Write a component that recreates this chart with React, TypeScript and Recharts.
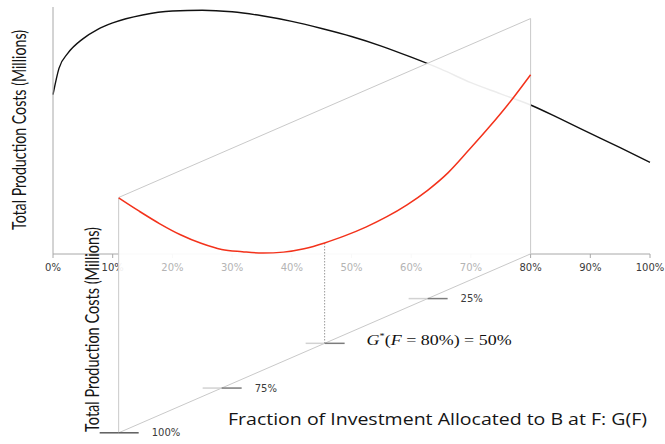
import React from 'react';
import {
  LineChart,
  ComposedChart,
  Line,
  Area,
  Scatter,
  XAxis,
  YAxis,
} from 'recharts';

// Main curve: total production cost against the share F allocated at the first stage
const fShares = [0, 1, 2.5, 5, 7.5, 10, 15, 20, 25, 30, 35, 40, 45, 50, 55, 60, 65, 70, 75, 80, 85, 90, 95, 100];
const costByF = [2.0, 2.33, 2.52, 2.7, 2.82, 2.9, 3.0, 3.05, 3.06, 3.04, 2.99, 2.92, 2.83, 2.73, 2.61, 2.47, 2.32, 2.15, 2.01, 1.87, 1.695, 1.515, 1.335, 1.15];
const fTicks = [0, 10, 20, 30, 40, 50, 60, 70, 80, 90, 100];
const costTicks = [0, 1, 2, 3];

// Inner panel: cost against the share G allocated to B, with F held at 80%
const fFixed = 80;
const gShares = [0, 5, 10, 15, 20, 25, 30, 35, 40, 45, 50, 55, 60, 65, 70, 75, 80, 85, 90, 95, 100];
const costByG = [2.25, 2.02, 1.82, 1.64, 1.47, 1.36, 1.29, 1.25, 1.235, 1.24, 1.26, 1.3, 1.37, 1.47, 1.6, 1.74, 1.93, 2.15, 2.4, 2.67, 2.95];
const gTicks = [25, 50, 75, 100];
const gOptimum = 50;

const yTitle = 'Total Production Costs (Millions)';
const xTitle = 'Fraction of Investment Allocated to B at F: G(F)';

// Oblique projection of the inner panel onto the main plane
const PANEL_F_AT_G100 = 11;
const PANEL_DROP_AT_G100 = -2.247;
const PANEL_HEIGHT = 2.955;
const project = (g: number, c: number) => ({
  f: fFixed + ((PANEL_F_AT_G100 - fFixed) * g) / 100,
  v: (PANEL_DROP_AT_G100 * g) / 100 + c,
});

const mainData = fShares.map((f, i) => ({ f, v: costByF[i] }));
const panelCurve = gShares.map((g, i) => project(g, costByG[i]));
const panelBand = [100, 0].map((g) => {
  const p = project(g, 0);
  return { f: p.f, band: [p.v, p.v + PANEL_HEIGHT] };
});
const edge = (g1: number, c1: number, g2: number, c2: number) => [project(g1, c1), project(g2, c2)];
const topEdge = edge(100, PANEL_HEIGHT, 0, PANEL_HEIGHT);
const bottomEdge = edge(100, 0, 0, 0);
const leftEdge = edge(100, 0, 100, PANEL_HEIGHT);
const rightEdge = edge(0, 0, 0, PANEL_HEIGHT);
const optimumCost = costByG[gShares.indexOf(gOptimum)];
const optimumDrop = edge(gOptimum, optimumCost, gOptimum, 0);
const gTickPoints = gTicks.map((g) => ({ ...project(g, 0), g }));
const coveredTicks = fTicks.filter((t) => t > 10 && t < fFixed).map((t) => ({ f: t, v: 0, t }));

const TICK_FONT = 'DejaVu Sans';
const TITLE_FONT = 'Lato';

const MainTick = (props: any) => {
  const { x, y, payload } = props;
  const v = payload.value;
  if (v > 10 && v < fFixed) return <g />;
  return (
    <text x={x} y={y + 11} textAnchor="middle" fill="#3a3a3a" fontSize={10} fontFamily={TICK_FONT}>
      {v}%
    </text>
  );
};

const CoveredTick = (props: any) => {
  const { cx, cy, payload } = props;
  return (
    <text x={cx} y={cy + 17} textAnchor="middle" fill="#b4b4b4" fontSize={10} fontFamily={TICK_FONT}>
      {payload.t}%
    </text>
  );
};

const GTick = (props: any) => {
  const { cx, cy, payload } = props;
  const last = payload.g === 100;
  return (
    <g>
      <line x1={cx - 19} x2={cx} y1={cy} y2={cy} stroke={last ? '#5c5c5c' : '#d2d2d2'} strokeWidth={1.5} />
      <line x1={cx} x2={cx + 20} y1={cy} y2={cy} stroke={last ? '#5c5c5c' : '#7c7c7c'} strokeWidth={1.5} />
      {payload.g === gOptimum ? (
        <text
          x={cx + 42}
          y={cy + 2}
          fontFamily="Liberation Serif"
          fontSize={14}
          fill="#111"
          textLength={145}
          lengthAdjust="spacingAndGlyphs"
        >
          <tspan fontStyle="italic">G</tspan>
          <tspan fontSize={8} dy={-6}>*</tspan>
          <tspan dy={6}>(</tspan>
          <tspan fontStyle="italic">F</tspan>
          <tspan> = {fFixed}%) = {payload.g}%</tspan>
        </text>
      ) : (
        <text x={cx + 33} y={cy + 3.5} fill="#3a3a3a" fontSize={10} fontFamily={TICK_FONT}>
          {payload.g}%
        </text>
      )}
    </g>
  );
};

const VerticalTitle = ({ x, y, length }: { x: number; y: number; length: number }) => (
  <g transform={`translate(${x}, ${y}) rotate(-90)`}>
    <text
      x={0}
      y={0}
      textAnchor="middle"
      fontFamily={TITLE_FONT}
      fontSize={19}
      fill="#151515"
      textLength={length}
      lengthAdjust="spacingAndGlyphs"
    >
      {yTitle}
    </text>
  </g>
);

export default function App() {
  return (
    <div style={{ position: 'absolute', left: 0, top: 0, width: 665, height: 444, background: '#fff', overflow: 'hidden' }}>
      <div style={{ position: 'absolute', left: 0, top: 0 }}>
        <LineChart width={665} height={290} data={mainData} margin={{ top: 7, right: 15, bottom: 6, left: 3 }}>
          <XAxis
            dataKey="f"
            type="number"
            domain={[0, 100]}
            ticks={fTicks}
            interval={0}
            height={30}
            tickSize={4}
            axisLine={{ stroke: '#a8a8a8' }}
            tickLine={{ stroke: '#a8a8a8' }}
            tick={<MainTick />}
          />
          <YAxis
            type="number"
            domain={[0, 3.1]}
            ticks={costTicks}
            width={50}
            tickSize={4}
            tick={false}
            axisLine={{ stroke: '#a8a8a8' }}
            tickLine={{ stroke: '#a8a8a8' }}
          />
          <Line type="monotone" dataKey="v" stroke="#111" strokeWidth={1.4} dot={false} isAnimationActive={false} />
        </LineChart>
      </div>

      <div style={{ position: 'absolute', left: 0, top: 0 }}>
        <ComposedChart width={665} height={444} margin={{ top: 7, right: 15, bottom: 3, left: 53 }}>
          <XAxis dataKey="f" type="number" domain={[0, 100]} hide />
          <YAxis dataKey="v" type="number" domain={[-2.35, 3.1]} hide width={0} />
          <Area
            data={panelBand}
            dataKey="band"
            type="linear"
            fill="#ffffff"
            fillOpacity={0.92}
            stroke="none"
            isAnimationActive={false}
          />
          {[topEdge, bottomEdge, leftEdge, rightEdge].map((d, i) => (
            <Line
              key={i}
              data={d}
              dataKey="v"
              type="linear"
              stroke="#c9c9c9"
              strokeWidth={1}
              dot={false}
              isAnimationActive={false}
            />
          ))}
          <Line
            data={optimumDrop}
            dataKey="v"
            type="linear"
            stroke="#9a9a9a"
            strokeWidth={1}
            strokeDasharray="1.5 1.5"
            dot={false}
            isAnimationActive={false}
          />
          <Line
            data={panelCurve}
            dataKey="v"
            type="monotone"
            stroke="#f3321b"
            strokeWidth={1.5}
            dot={false}
            isAnimationActive={false}
          />
          <Scatter data={coveredTicks} dataKey="v" shape={<CoveredTick />} isAnimationActive={false} />
          <Scatter data={gTickPoints} dataKey="v" shape={<GTick />} isAnimationActive={false} />
        </ComposedChart>
      </div>

      <svg width={665} height={444} style={{ position: 'absolute', left: 0, top: 0, pointerEvents: 'none' }}>
        <VerticalTitle x={26} y={130} length={200} />
        <VerticalTitle x={98.5} y={329.5} length={205} />
        <text
          x={228}
          y={425}
          fontFamily="Open Sans"
          fontSize={16}
          fill="#151515"
          textLength={419}
          lengthAdjust="spacingAndGlyphs"
        >
          {xTitle}
        </text>
      </svg>
    </div>
  );
}
